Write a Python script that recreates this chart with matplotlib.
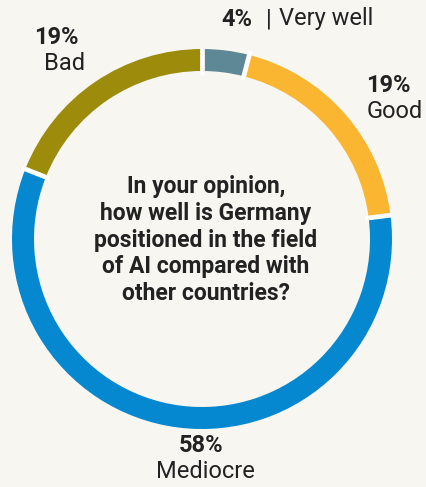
import matplotlib
matplotlib.use("Agg")
import matplotlib.pyplot as plt
import numpy as np

# Survey answers, drawn clockwise from 12 o'clock
categories = ["Very well", "Good", "Mediocre", "Bad"]
shares = [4, 19, 58, 19]
colors = ["#5e8896", "#fbb631", "#0588cf", "#9d8b0b"]

question = ("In your opinion,\nhow well is Germany\npositioned in the field\n"
            "of AI compared with\nother countries?")

BG = "#f7f6f1"
INK = "#222222"
W, H = 427, 487
FONT = "Roboto"

fig = plt.figure(figsize=(W / 100, H / 100), dpi=100, facecolor=BG)


def px(x, y):
    return x / W, 1 - y / H


# Ring axes: centre (202, 239) px, outer radius 190 px
cx, cy, R = 202, 239, 190
ax = fig.add_axes([(cx - R) / W, (H - cy - R) / H, 2 * R / W, 2 * R / H])
ax.set_facecolor(BG)
ring_w = 22 / R
ax.pie(shares, colors=colors, startangle=90, counterclock=False,
       radius=1.0, wedgeprops=dict(width=ring_w, edgecolor="none"))

# White gaps between slices
bounds = np.cumsum([0] + shares[:-1]) / sum(shares)
for b in bounds:
    ang = np.pi / 2 - 2 * np.pi * b
    r = np.array([1 - ring_w - 0.02, 1.02])
    ax.plot(r * np.cos(ang), r * np.sin(ang), color="white", lw=3.4,
            solid_capstyle="butt")

ax.set_xlim(-1, 1)
ax.set_ylim(-1, 1)
ax.set_aspect("equal")
ax.axis("off")

# Centre question
fig.text(*px(206, 240), question, ha="center", va="center", fontsize=16.5,
         fontweight="bold", color=INK, family=FONT, linespacing=1.2)

# Slice labels
lbl = dict(color=INK, family=FONT, fontsize=17)
pct = {c: f"{v}%" for c, v in zip(categories, shares)}

# Very well (top)
fig.text(*px(221, 19), pct["Very well"], ha="left", va="center",
         fontweight="bold", **lbl)
fig.text(*px(266, 19), "|", ha="left", va="center", **lbl)
fig.text(*px(279, 19), categories[0], ha="left", va="center", **lbl)

# Good (right)
fig.text(*px(366, 85), pct["Good"], ha="left", va="center",
         fontweight="bold", **lbl)
fig.text(*px(367, 111), categories[1], ha="left", va="center", **lbl)

# Mediocre (bottom)
fig.text(*px(201, 446), pct["Mediocre"], ha="center", va="center",
         fontweight="bold", **lbl)
fig.text(*px(205, 471), categories[2], ha="center", va="center", **lbl)

# Bad (top left)
fig.text(*px(56, 38), pct["Bad"], ha="center", va="center",
         fontweight="bold", **lbl)
fig.text(*px(65, 64), categories[3], ha="center", va="center", **lbl)

fig.savefig("out.png", dpi=100, facecolor=BG)
